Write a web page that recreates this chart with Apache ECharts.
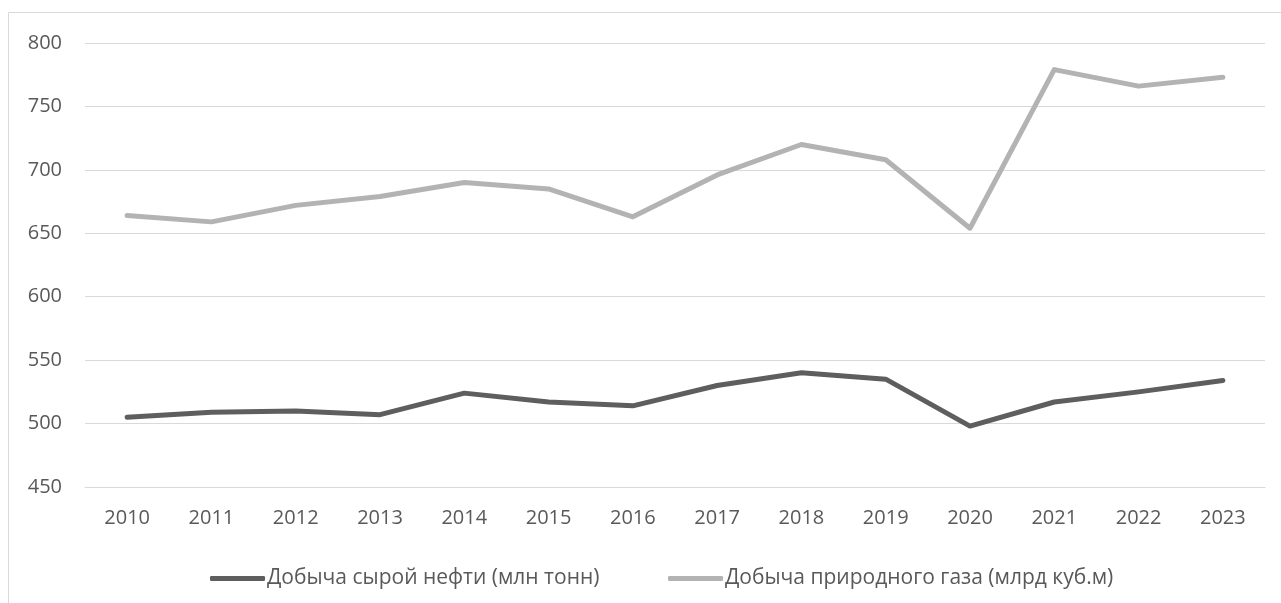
<!DOCTYPE html>
<html>
<head>
<meta charset="utf-8">
<script src="https://cdn.jsdelivr.net/npm/echarts@6/dist/echarts.min.js"></script>
<style>
html,body{margin:0;padding:0;background:#fff;}
#chart{width:1281px;height:603px;}
</style>
</head>
<body>
<div id="chart"></div>
<script>
var years = ['2010','2011','2012','2013','2014','2015','2016','2017','2018','2019','2020','2021','2022','2023'];
var oilName = 'Добыча сырой нефти (млн тонн)';
var gasName = 'Добыча природного газа (млрд куб.м)';
var oil = [505, 509, 510, 507, 524, 517, 514, 530, 540, 535, 498, 517, 525, 534];
var gas = [664, 659, 672, 679, 690, 685, 663, 696, 720, 708, 654, 779, 766, 773];
var yTicks = {min: 450, max: 800, interval: 50};

var font = '"Open Sans", "DejaVu Sans", sans-serif';
var textColor = '#595959';
var chart = echarts.init(document.getElementById('chart'));
var legendBase = {
  orient: 'horizontal',
  top: 563,
  itemWidth: 55,
  itemHeight: 5,
  itemGap: 0,
  icon: 'roundRect',
  textStyle: {color: textColor, fontSize: 21, fontFamily: font, padding: [0,0,0,-3]},
  selectedMode: false
};
chart.setOption({
  animation: false,
  backgroundColor: '#fff',
  graphic: [{
    type: 'rect',
    shape: {x: 8.5, y: 12.5, width: 1400, height: 800},
    style: {fill: 'none', stroke: '#d9d9d9', lineWidth: 1},
    silent: true
  }],
  grid: {left: 85, right: 16, top: 43, bottom: 116, containLabel: false},
  legend: [
    Object.assign({}, legendBase, {left: 205, data: [oilName]}),
    Object.assign({}, legendBase, {left: 663, data: [gasName]})
  ],
  xAxis: {
    type: 'category',
    data: years,
    boundaryGap: true,
    axisLine: {show: true, lineStyle: {color: '#d9d9d9', width: 1}},
    axisTick: {show: false},
    axisLabel: {color: textColor, fontSize: 20, fontFamily: font, margin: 21}
  },
  yAxis: {
    type: 'value',
    min: yTicks.min,
    max: yTicks.max,
    interval: yTicks.interval,
    axisLine: {show: false},
    axisTick: {show: false},
    axisLabel: {color: textColor, fontSize: 20, fontFamily: font, margin: 23},
    splitLine: {lineStyle: {color: '#d9d9d9', width: 1}}
  },
  series: [
    {
      name: oilName,
      type: 'line',
      data: oil,
      showSymbol: false,
      symbol: 'none',
      color: '#5e5e5e',
      lineStyle: {color: '#5e5e5e', width: 5, cap: 'round', join: 'round'}
    },
    {
      name: gasName,
      type: 'line',
      data: gas,
      showSymbol: false,
      symbol: 'none',
      color: '#b3b3b3',
      lineStyle: {color: '#b3b3b3', width: 5, cap: 'round', join: 'round'}
    }
  ]
});
</script>
</body>
</html>
